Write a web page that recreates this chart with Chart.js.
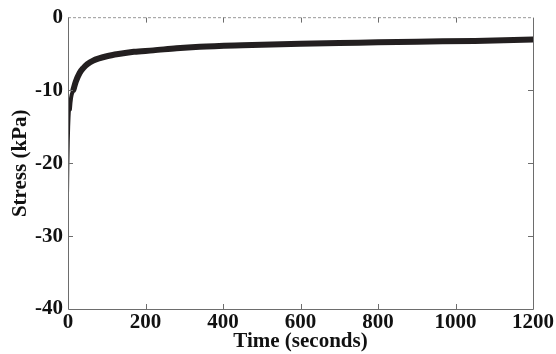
<!DOCTYPE html>
<html>
<head>
<meta charset="utf-8">
<script src="https://cdn.jsdelivr.net/npm/chart.js@4/dist/chart.umd.min.js"></script>
<style>
  html, body { margin: 0; padding: 0; background: #fff; }
  #wrap { width: 556px; height: 354px; }
</style>
</head>
<body>
<div id="wrap"><canvas id="c" width="556" height="354"></canvas></div>
<script>
// Stress relaxation curve
const timeSec = [0, 1, 2, 3, 5, 8, 14, 20, 30, 40, 50, 65, 80, 100, 130, 170, 220, 280, 340, 450, 600, 750, 900, 1050, 1200];
const stressKpa = [-24.5, -20, -17, -15, -12.6, -11, -9.9, -8.8, -7.6, -6.9, -6.4, -5.9, -5.6, -5.3, -5.0, -4.7, -4.5, -4.2, -4.0, -3.8, -3.6, -3.45, -3.3, -3.2, -3.0];
const xTicks = [0, 200, 400, 600, 800, 1000, 1200];
const yTicks = [-40, -30, -20, -10, 0];

const FONT = { family: '"Liberation Serif", "DejaVu Serif", serif', size: 21, weight: 'bold' };
const AXIS_COLOR = '#6d6d6d';

// Inward tick marks on all four sides, like the MATLAB box
const inwardTicks = {
  id: 'inwardTicks',
  afterDatasetsDraw(chart) {
    const { ctx, chartArea: a, scales: { x, y } } = chart;
    ctx.save();
    ctx.strokeStyle = AXIS_COLOR;
    ctx.lineWidth = 1;
    ctx.beginPath();
    xTicks.slice(1, -1).forEach(v => {
      const px = Math.round(x.getPixelForValue(v)) + 0.5;
      ctx.moveTo(px, a.bottom); ctx.lineTo(px, a.bottom - 5);
      ctx.moveTo(px, a.top); ctx.lineTo(px, a.top + 5);
    });
    yTicks.slice(1, -1).forEach(v => {
      const py = Math.round(y.getPixelForValue(v)) + 0.5;
      ctx.moveTo(a.left, py); ctx.lineTo(a.left + 5, py);
      ctx.moveTo(a.right, py); ctx.lineTo(a.right - 5, py);
    });
    ctx.stroke();
    // frame: solid left/bottom/right
    ctx.beginPath();
    ctx.moveTo(a.left + 0.5, a.top); ctx.lineTo(a.left + 0.5, a.bottom + 0.5);
    ctx.lineTo(a.right + 0.5, a.bottom + 0.5); ctx.lineTo(a.right + 0.5, a.top);
    ctx.stroke();
    ctx.restore();
  }
};

new Chart(document.getElementById('c'), {
  type: 'line',
  data: {
    datasets: [
      {
        data: timeSec.map((t, i) => ({ x: t, y: stressKpa[i] })),
        borderColor: '#231f20',
        borderWidth: 6,
        segment: { borderWidth: ctx => ctx.p0DataIndex < 4 ? 2 : (ctx.p0DataIndex < 6 ? 4 : 6) },
        borderCapStyle: 'round',
        borderJoinStyle: 'round',
        pointRadius: 0,
        cubicInterpolationMode: 'monotone',
      },
      {
        // dashed zero line along the top
        data: [{ x: 0, y: 0 }, { x: 1200, y: 0 }],
        borderColor: '#444',
        borderWidth: 1,
        borderDash: [3, 2],
        pointRadius: 0,
      },
    ],
  },
  options: {
    responsive: false,
    animation: false,
    events: [],
    layout: { padding: { left: 0, right: 23, top: 17, bottom: 0 } },
    plugins: { legend: { display: false }, tooltip: { enabled: false } },
    scales: {
      x: {
        type: 'linear',
        min: 0,
        max: 1200,
        afterFit: s => { s.height = 45; },
        afterBuildTicks: s => { s.ticks = xTicks.map(v => ({ value: v })); },
        ticks: { color: '#111', font: FONT, padding: 1, maxRotation: 0, callback: v => String(v) },
        grid: { display: false, drawTicks: false },
        border: { display: false },
        title: { display: true, text: 'Time (seconds)', color: '#111', font: FONT, padding: { top: -7, bottom: 0 } },
      },
      y: {
        min: -40,
        max: 0,
        afterFit: s => { s.width = 68; },
        afterBuildTicks: s => { s.ticks = yTicks.map(v => ({ value: v })); },
        ticks: { color: '#111', font: FONT, padding: 5, callback: v => String(v) },
        grid: { display: false, drawTicks: false },
        border: { display: false },
        title: { display: true, text: 'Stress (kPa)', color: '#111', font: FONT, padding: { top: 8, bottom: 0 } },
      },
    },
  },
  plugins: [inwardTicks],
});
</script>
</body>
</html>
